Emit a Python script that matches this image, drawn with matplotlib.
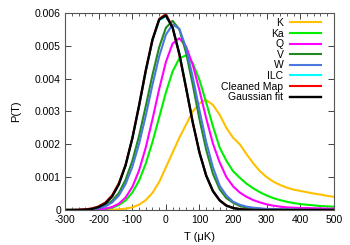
import numpy as np
import matplotlib
matplotlib.use('Agg')
import matplotlib.pyplot as plt
from matplotlib.ticker import MultipleLocator

plt.rcParams['font.family'] = ['Liberation Sans Narrow', 'Liberation Sans', 'DejaVu Sans']
plt.rcParams['axes.unicode_minus'] = False

# temperature grid (muK)
temp = np.arange(-300, 501, 20)

# P(T) for each band
p_k = [0, 0, 0, 0, 0, 0, 0, 0.00001, 0.00002, 0.00004,
       0.00008, 0.00016, 0.0003, 0.00052, 0.00085, 0.0013, 0.00175, 0.0022, 0.0026, 0.003,
       0.00325, 0.00335, 0.0032, 0.0029, 0.0025, 0.0022, 0.002, 0.0017, 0.00142, 0.00118,
       0.001, 0.00086, 0.00076, 0.00068, 0.00062, 0.00058, 0.00054, 0.0005, 0.00047, 0.00043,
       0.0004]
p_ka = [0, 0, 0, 0, 0.00001, 0.00002, 0.00003, 0.00007, 0.00015, 0.00029,
        0.00053, 0.00089, 0.00141, 0.00207, 0.00282, 0.00358, 0.00422, 0.00462, 0.00471, 0.00447,
        0.00396, 0.00327, 0.00255, 0.0019, 0.0015, 0.00118, 0.00098, 0.0008, 0.00066, 0.00054,
        0.00044, 0.00036, 0.0003, 0.00025, 0.00021, 0.00018, 0.00016, 0.00014, 0.00012, 0.00011,
        0.0001]
p_q = [0, 0, 0, 0, 0.00001, 0.00002, 0.00004, 0.00009, 0.00019, 0.00038,
       0.0007, 0.0012, 0.0019, 0.00276, 0.00368, 0.00451, 0.00507, 0.00523, 0.00498, 0.00442,
       0.00364, 0.00279, 0.00202, 0.00145, 0.001, 0.00072, 0.00053, 0.0004, 0.0003, 0.00023,
       0.00017, 0.00013, 0.0001, 0.00008, 0.00007, 0.00006, 0.00006, 0.00005, 0.00005, 0.00004,
       0.00004]
p_v = [0, 0, 0, 0.00001, 0.00003, 0.00006, 0.00014, 0.00028, 0.00052, 0.00092,
       0.00149, 0.00225, 0.00316, 0.00411, 0.00496, 0.00555, 0.00576, 0.0055, 0.00479, 0.00381,
       0.00276, 0.00183, 0.0011, 0.00063, 0.00036, 0.00022, 0.00012, 0.00007, 0.00005, 0.00003,
       0.00002, 0.00002, 0.00001, 0.00001, 0, 0, 0, 0, 0, 0,
       0]
p_w = [0, 0, 0, 0.00001, 0.00002, 0.00005, 0.00011, 0.00023, 0.00044, 0.00079,
       0.00131, 0.00201, 0.00287, 0.00381, 0.00468, 0.00534, 0.00565, 0.00552, 0.00494, 0.00404,
       0.00303, 0.00207, 0.0013, 0.00074, 0.00044, 0.00025, 0.00016, 0.0001, 0.00007, 0.00005,
       0.00003, 0.00003, 0.00002, 0.00002, 0.00001, 0.00001, 0, 0, 0, 0,
       0]
p_ilc = [0, 0, 0, 0.00001, 0.00004, 0.0001, 0.00022, 0.00043, 0.0008, 0.00136,
         0.00216, 0.00314, 0.0042, 0.00515, 0.00578, 0.0059, 0.00558, 0.00478, 0.00375, 0.00268,
         0.00176, 0.00106, 0.00059, 0.0003, 0.00014, 0.00006, 0.00003, 0.00001, 0, 0,
         0, 0, 0, 0, 0, 0, 0, 0, 0, 0,
         0]
p_clean = [0, 0, 0.00001, 0.00002, 0.00005, 0.00011, 0.00023, 0.00045, 0.00082, 0.00138,
           0.00218, 0.00316, 0.00423, 0.00518, 0.00582, 0.00597, 0.00556, 0.00474, 0.00371, 0.00266,
           0.00175, 0.00105, 0.00058, 0.0003, 0.00014, 0.00006, 0.00003, 0.00001, 0, 0,
           0, 0, 0, 0, 0, 0, 0, 0, 0, 0,
           0]
p_gauss = [0, 0, 0, 0.00001, 0.00003, 0.00009, 0.0002, 0.00041, 0.00078, 0.00136,
           0.00218, 0.00318, 0.00425, 0.00519, 0.0058, 0.00593, 0.00555, 0.00475, 0.00372, 0.00266,
           0.00174, 0.00104, 0.00057, 0.00029, 0.00013, 0.00006, 0.00002, 0.00001, 0, 0,
           0, 0, 0, 0, 0, 0, 0, 0, 0, 0,
           0]

labels = ['K', 'Ka', 'Q', 'V', 'W', 'ILC', 'Cleaned Map', 'Gaussian fit']
colors = ['#ffc000', '#00ee00', '#ff00ff', '#208a20', '#4a78dc', '#00ffff', '#ff0000', '#000000']
series = [p_k, p_ka, p_q, p_v, p_w, p_ilc, p_clean, p_gauss]

fig = plt.figure(figsize=(3.5, 2.45), dpi=100)
ax = fig.add_axes([0.186, 0.143, 0.768, 0.804])

for lab, col, vals in zip(labels, colors, series):
    lw = 1.7 if lab == 'Gaussian fit' else 1.5
    ax.plot(temp, vals, color=col, lw=lw, label=lab)

ax.set_xlim(-300, 500)
ax.set_ylim(0, 0.006)
ax.set_xticks(range(-300, 501, 100))
ax.xaxis.set_minor_locator(MultipleLocator(20))
ax.set_yticks([0, 0.001, 0.002, 0.003, 0.004, 0.005, 0.006])
ax.set_yticklabels(['0', '0.001', '0.002', '0.003', '0.004', '0.005', '0.006'])
ax.tick_params(which='both', direction='in', top=True, right=True, labelsize=7.5, color='#444444')
ax.tick_params(axis='x', pad=3.5)
ax.tick_params(axis='y', pad=3)
ax.tick_params(which='major', length=4, width=0.7)
ax.tick_params(which='minor', length=2, width=0.6)
ax.tick_params(axis='y', which='minor', left=False, right=False)
for s in ax.spines.values():
    s.set_color('#555555')
    s.set_linewidth(0.8)

ax.set_xlabel('T (\u03bcK)', fontsize=8, labelpad=5)
ax.set_ylabel('P(T)', fontsize=8, labelpad=10)

ax.legend(loc='upper right', bbox_to_anchor=(0.952, 0.975), frameon=False, markerfirst=False,
          fontsize=7.5, handlelength=3.0, handletextpad=0.6, labelspacing=0.06,
          borderpad=0, borderaxespad=0)

fig.savefig('out.png', dpi=100)
